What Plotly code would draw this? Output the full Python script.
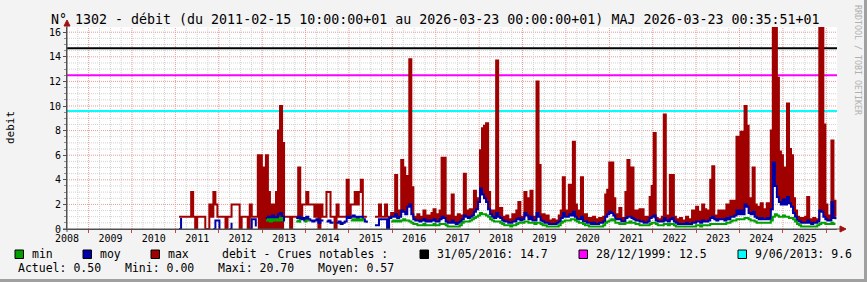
import pandas as pd
import plotly.graph_objects as go

N = None

# ---------------- data ----------------
START = "2010-08-01"   # first consolidated sample
STEP = "17D"           # consolidation step
DENSE_FROM = 104       # index from which the record is continuous
FLOOD_2013 = (39, 53)  # sample range of the 2012-2013 high-water episode

vmax = [
    1, 1, 1, 1, 1, 1, 3, 1, 0, 1,
    1, 1, 1, 0, 0, 2, 1, 3, 2, 1,
    1, 1, 1, 0, 1, 1, 2, 2, 2, 2,
    0, 1, 1, 1, 0, 2, 1, 1, 1, 6,
    6, 5, 1, 6, 3, 1, 2, 1, 3, 8,
    10, 7, 1, 1, 1, 0, 1, 1, 1, 5,
    1, 2, 2, 3, 2, 2, 2, 1, 2, 0,
    2, 1, 1, 3, 3, 1, 1, 0, 2, 1,
    1, 1, 1, 4, 1, 2, 2, 3, 2, 3,
    4, 1, 1, 1, N, N, N, 1, 1, 2,
    1, 1, 2, 1, 1, 1.3, 1.3, 4.4, 1.5, 1.4,
    5.6, 5.0, 2.5, 4.3, 13.8, 3.4, 1.0, 0.9, 1.2, 0.8,
    1.0, 1.5, 0.9, 1.1, 0.8, 1.3, 1.6, 1.0, 1.2, 1.5,
    5.8, 5.8, 1.0, 1.1, 0.9, 2.8, 1.0, 0.8, 1.2, 0.9,
    1.1, 4.5, 1.5, 1.2, 1.6, 1.3, 3.1, 2.5, 2.5, 6.4,
    8.2, 8.4, 8.6, 3.0, 1.5, 1.5, 1.2, 13.7, 1.7, 1.7,
    1.0, 0.9, 1.1, 0.8, 0.8, 1.2, 0.9, 1.5, 2.2, 1.0,
    1.0, 3.0, 2.5, 1.0, 3.1, 1.0, 1.0, 12.0, 5.2, 1.0,
    1.2, 0.9, 1.1, 0.7, 0.6, 0.8, 0.6, 0.7, 1.1, 1.5,
    4.2, 1.5, 1.4, 3.6, 2.5, 7.1, 2.0, 1.2, 1.5, 4.2,
    1.0, 1.2, 0.8, 0.9, 0.7, 1.0, 0.8, 0.7, 0.9, 0.8,
    1.0, 2.8, 3.2, 5.4, 5.4, 2.5, 1.0, 1.2, 1.7, 0.8,
    0.9, 3.0, 5.6, 5.0, 5.0, 1.5, 1.2, 1.5, 1.6, 1.6,
    1.0, 0.9, 1.0, 2.6, 3.5, 7.8, 0.9, 0.7, 0.8, 1.0,
    9.3, 1.0, 1.1, 4.4, 4.4, 1.0, 0.8, 0.6, 0.9, 0.5,
    0.7, 1.0, 0.6, 0.8, 1.5, 1.2, 1.8, 1.4, 1.2, 2.0,
    1.6, 1.5, 1.2, 4.0, 5.1, 1.0, 1.1, 1.5, 1.3, 1.5,
    1.2, 2.0, 1.0, 2.3, 1.8, 2.3, 7.5, 2.5, 7.9, 2.0,
    10.0, 8.4, 2.5, 2.5, 5.0, 2.0, 1.8, 1.5, 2.1, 1.4,
    1.6, 2.1, 1.5, 8.0, 20.7, 16.5, 12.3, 6.3, 6.0, 5.0,
    4.5, 10.2, 6.5, 6.0, 2.5, 1.5, 1.0, 0.8, 0.9, 0.8,
    1.0, 2.6, 0.8, 0.7, 0.9, 0.8, 0.8, 20.0, 19.0, 8.5,
    2.0, 1.0, 1.1, 7.2, 2.3, 1.0,
]

vmoy = [
    0, 0.9, N, N, N, N, N, N, N, N,
    N, N, N, N, N, N, N, 0, 0.7, 0.7,
    0, N, N, N, N, 0, 0.5, N, N, N,
    N, N, N, N, N, 0, 0.8, 0.8, 0.2, N,
    N, N, N, 0.9, 1.0, 0.8, 1.1, 0.9, 1.0, 1.2,
    1.3, 1.0, 0.6, N, N, N, N, N, 0.9, 1.0,
    0.8, 0.9, 0.7, 1.0, 0.8, 0.7, 0.6, 0.7, 0.8, 0.5,
    0.7, 0.6, N, 0.6, 0.7, 0.5, 0.6, N, 0.5, 0.6,
    0.4, 0.5, 0.6, 1.0, 0.9, 1.0, 1.1, 1.0, 0.9, 1.0,
    1.0, 0.8, 0.6, 0.5, N, N, N, 0.3, 0.3, 0.8,
    0.8, 0.8, 0.8, 0, 0.9, 1.0, 1.0, 1.2, 0.9, 1.0,
    1.5, 1.4, 1.2, 1.8, 2.0, 1.2, 0.8, 0.7, 0.7, 0.6,
    0.7, 0.8, 0.6, 0.7, 0.6, 0.7, 0.8, 0.6, 0.6, 0.8,
    1.0, 0.9, 0.6, 0.5, 0.5, 0.7, 0.5, 0.4, 0.5, 0.6,
    0.8, 1.1, 1.0, 0.9, 1.0, 1.1, 1.4, 1.6, 2.2, 3.3,
    2.8, 2.5, 2.2, 1.6, 1.2, 1.0, 0.9, 1.3, 1.0, 0.9,
    0.7, 0.6, 0.6, 0.5, 0.5, 0.6, 0.6, 0.8, 0.9, 0.7,
    0.8, 1.3, 1.1, 0.8, 1.0, 0.7, 0.7, 1.3, 1.0, 0.7,
    0.6, 0.5, 0.5, 0.4, 0.4, 0.4, 0.4, 0.5, 0.6, 0.9,
    1.3, 1.0, 1.0, 1.2, 1.1, 1.4, 1.0, 0.8, 0.8, 1.0,
    0.6, 0.6, 0.5, 0.5, 0.4, 0.5, 0.4, 0.4, 0.5, 0.5,
    0.6, 1.0, 1.2, 1.4, 1.3, 1.1, 0.8, 0.8, 0.8, 0.6,
    0.6, 0.9, 1.0, 1.0, 0.9, 0.8, 0.7, 0.7, 0.6, 0.6,
    0.5, 0.5, 0.6, 0.9, 1.0, 1.1, 0.7, 0.6, 0.6, 0.6,
    0.9, 0.7, 0.6, 0.8, 0.9, 0.6, 0.5, 0.4, 0.4, 0.4,
    0.4, 0.5, 0.4, 0.4, 0.5, 0.5, 0.6, 0.6, 0.5, 0.7,
    0.6, 0.6, 0.7, 0.9, 1.0, 0.8, 0.7, 0.8, 0.8, 0.8,
    0.7, 0.9, 0.8, 1.0, 1.0, 1.1, 1.5, 1.2, 1.5, 1.2,
    2.0, 1.8, 1.3, 1.2, 1.4, 1.0, 0.9, 0.8, 0.9, 0.8,
    0.8, 0.9, 0.8, 1.6, 5.4, 3.5, 2.6, 2.2, 2.0, 2.4,
    2.0, 2.6, 2.1, 1.8, 1.3, 1.0, 0.7, 0.6, 0.5, 0.5,
    0.5, 0.7, 0.5, 0.4, 0.5, 0.5, 0.6, 1.5, 1.4, 1.0,
    0.8, 0.7, 0.7, 2.2, 0.9, 0.8,
]

vmin = [
    N, N, N, N, N, N, N, N, N, N,
    N, N, N, N, N, N, N, N, N, N,
    N, N, N, N, N, N, N, N, N, N,
    N, N, N, N, N, N, N, N, N, N,
    N, N, N, 0.7, 0.8, 0.6, 0.8, 0.7, 0.8, 0.7,
    0.9, 0.6, N, N, N, N, N, N, 0.6, 0.7,
    0.5, N, 0.6, 0.7, 0.6, N, N, N, N, N,
    N, N, N, N, N, N, N, N, N, N,
    N, N, N, N, N, 0.7, 0.8, 0.7, 0.8, 0.7,
    0.8, 0.6, N, N, N, N, N, N, N, N,
    N, N, N, N, N, 0.6, 0.7, 0.6, 0.7, 0.6,
    0.7, 0.8, 0.7, 0.7, 0.6, 0.5, 0.4, 0.4, 0.3, 0.3,
    0.3, 0.4, 0.3, 0.3, 0.3, 0.3, 0.4, 0.3, 0.3, 0.4,
    0.4, 0.4, 0.3, 0.2, 0.2, 0.2, 0.2, 0.2, 0.2, 0.3,
    0.5, 0.6, 0.6, 0.6, 0.7, 0.8, 0.9, 1.0, 1.1, 1.3,
    1.2, 1.2, 1.1, 1.0, 0.8, 0.7, 0.6, 0.6, 0.6, 0.5,
    0.4, 0.3, 0.3, 0.3, 0.2, 0.3, 0.3, 0.4, 0.5, 0.5,
    0.5, 0.6, 0.6, 0.5, 0.5, 0.5, 0.4, 0.5, 0.5, 0.4,
    0.3, 0.3, 0.2, 0.2, 0.2, 0.2, 0.2, 0.2, 0.3, 0.5,
    0.6, 0.7, 0.7, 0.7, 0.8, 0.8, 0.7, 0.6, 0.5, 0.5,
    0.4, 0.3, 0.3, 0.2, 0.2, 0.2, 0.2, 0.2, 0.2, 0.2,
    0.3, 0.5, 0.6, 0.7, 0.8, 0.7, 0.5, 0.5, 0.4, 0.4,
    0.4, 0.5, 0.5, 0.6, 0.5, 0.5, 0.4, 0.4, 0.3, 0.3,
    0.3, 0.3, 0.3, 0.4, 0.5, 0.5, 0.4, 0.3, 0.3, 0.3,
    0.4, 0.4, 0.3, 0.4, 0.4, 0.3, 0.2, 0.2, 0.2, 0.2,
    0.2, 0.2, 0.2, 0.2, 0.2, 0.2, 0.3, 0.3, 0.2, 0.3,
    0.3, 0.3, 0.3, 0.4, 0.4, 0.4, 0.4, 0.4, 0.4, 0.4,
    0.4, 0.5, 0.5, 0.6, 0.7, 0.7, 0.8, 0.8, 0.8, 0.8,
    0.9, 0.9, 0.8, 0.7, 0.7, 0.6, 0.5, 0.5, 0.5, 0.5,
    0.5, 0.5, 0.5, 0.7, 1.0, 1.2, 1.1, 1.0, 1.0, 1.1,
    1.0, 1.0, 0.9, 0.9, 0.8, 0.6, 0.4, 0.3, 0.2, 0.2,
    0.2, 0.2, 0.2, 0.2, 0.2, 0.2, 0.3, 0.4, 0.5, 0.5,
    0.4, 0.4, 0.4, 0.5, 0.4, 0.4,
]

crue_labels = ["31/05/2016: 14.7", "28/12/1999: 12.5", "9/06/2013: 9.6"]
crue_values = [14.7, 12.5, 9.6]
series_names = ["min", "moy", "max"]
stats_labels = ["Actuel: 0.50", "Mini: 0.00", "Maxi: 20.70", "Moyen: 0.57"]
year_labels = list(range(2008, 2026))

TITLE = ("N° 1302 - débit (du 2011-02-15 10:00:00+01 au 2026-03-23 00:00:00+01) "
         "MAJ 2026-03-23 00:35:51+01")

# ---------------- styling ----------------
C_MIN, C_MOY, C_MAX = "#00A000", "#0000A8", "#A00000"
C_CRUES = ["#000000", "#FF00FF", "#00FFFF"]
MONO = "DejaVu Sans Mono"
W, H = 867, 282
L, R, T, B = 67, 30, 27, 53
PW, PH = W - L - R, H - T - B
X0, X1 = "2008-01-01", "2025-09-29"
YMAX = PH / 12.3


def px(x):
    return (x - L) / PW


def py(y):
    return (H - B - y) / PH


dates = pd.date_range(START, periods=len(vmax), freq=STEP)

fig = go.Figure()

# grid (drawn below the data)
shapes = []
GRID_MINOR = "#D2D2D2"
GRID_MAJOR = "#E59C9C"
k = 0.5
while k < YMAX:
    major = abs(k / 2 - round(k / 2)) < 1e-9
    shapes.append(dict(type="line", xref="paper", yref="y", x0=0, x1=1, y0=k, y1=k,
                       line=dict(color=GRID_MAJOR if major else GRID_MINOR, width=1,
                                 dash="1px,1px"), layer="below"))
    k += 0.5
for yr in year_labels:
    for m in (1, 4, 7, 10):
        d = pd.Timestamp(year=yr, month=m, day=1)
        if d <= pd.Timestamp(X0) or d >= pd.Timestamp(X1):
            continue
        shapes.append(dict(type="line", xref="x", yref="paper", x0=d, x1=d, y0=0, y1=1,
                           line=dict(color=GRID_MAJOR if m == 7 else GRID_MINOR, width=1,
                                     dash="1px,1px"), layer="below"))
# reference flood levels
for v, c in zip(crue_values, C_CRUES):
    shapes.append(dict(type="line", xref="paper", yref="y", x0=0, x1=1, y0=v, y1=v,
                       line=dict(color=c, width=2), layer="below"))

# 2012-2013 high-water episode: solid max envelope
a, b = FLOOD_2013
fig.add_trace(go.Scatter(x=dates[a:b], y=vmax[a:b], mode="lines", fill="tozeroy",
                         fillcolor=C_MAX, line=dict(width=0, shape="hv", simplify=False),
                         hoverinfo="skip", showlegend=False))

# continuous record: the daily max envelope is dense, shade it down to the mean
dd = dates[DENSE_FROM:]
fig.add_trace(go.Scatter(x=dd, y=vmoy[DENSE_FROM:], mode="lines",
                         line=dict(width=0, shape="hv", simplify=False),
                         hoverinfo="skip", showlegend=False))
fig.add_trace(go.Scatter(x=dd, y=vmax[DENSE_FROM:], mode="lines", fill="tonexty",
                         fillcolor=C_MAX, line=dict(width=0, shape="hv", simplify=False),
                         hoverinfo="skip", showlegend=False))

# data lines
for y, c in ((vmax, C_MAX), (vmoy, C_MOY), (vmin, C_MIN)):
    fig.add_trace(go.Scatter(x=dates, y=y, mode="lines", connectgaps=False,
                             line=dict(color=c, width=2, shape="hv", simplify=False),
                             hoverinfo="skip", showlegend=False))

# axis extensions and arrows
AX = "#505050"
ARROW = "#A01010"
shapes += [
    dict(type="line", xref="paper", yref="paper", x0=px(63), x1=px(841), y0=0, y1=0,
         line=dict(color=AX, width=1)),
    dict(type="line", xref="paper", yref="paper", x0=0, x1=0, y0=py(232), y1=py(25),
         line=dict(color=AX, width=1)),
    dict(type="path", xref="paper", yref="paper",
         path=f"M {px(840)},{py(226)} L {px(846)},{py(229)} L {px(840)},{py(232)} Z",
         fillcolor=ARROW, line=dict(color=ARROW, width=1)),
    dict(type="path", xref="paper", yref="paper",
         path=f"M {px(64)},{py(26)} L {px(67)},{py(20)} L {px(70)},{py(26)} Z",
         fillcolor=ARROW, line=dict(color=ARROW, width=1)),
    # frame shading
    dict(type="rect", xref="paper", yref="paper", x0=px(864), x1=px(868), y0=py(283), y1=py(-1),
         fillcolor="#A0A0A0", line=dict(width=0)),
    dict(type="rect", xref="paper", yref="paper", x0=px(-1), x1=px(868), y0=py(283), y1=py(279),
         fillcolor="#A0A0A0", line=dict(width=0)),
]

# legend squares and texts
annotations = []
LEG_Y1, LEG_Y2 = 254, 268
sq = [(15, C_MIN), (83, C_MOY), (151, C_MAX), (420, C_CRUES[0]), (579, C_CRUES[1]), (738, C_CRUES[2])]
for x, c in sq:
    shapes.append(dict(type="rect", xref="paper", yref="paper", x0=px(x), x1=px(x + 8.5),
                       y0=py(258.5), y1=py(250), fillcolor=c, line=dict(color="#000000", width=1)))


def txt(x, y, s, size=11.5, color="#000000", angle=0, xanchor="left"):
    annotations.append(dict(x=px(x), y=py(y), xref="paper", yref="paper", text=s, showarrow=False,
                            xanchor=xanchor, yanchor="middle", textangle=angle,
                            font=dict(family=MONO, size=size, color=color)))


for x, s in zip((30, 98, 166), series_names):
    txt(x, LEG_Y1, s)
txt(220, LEG_Y1, "debit - Crues notables :")
for x, s in zip((435, 594, 753), crue_labels):
    txt(x, LEG_Y1, s)
for x, s in zip((16, 122.5, 216, 316), stats_labels):
    txt(x, LEG_Y2, s)
txt(49, 19.5, TITLE, size=13.3)
annotations.append(dict(x=px(10), y=py(128), xref="paper", yref="paper", text="debit",
                        showarrow=False, textangle=-90, xanchor="center", yanchor="middle",
                        font=dict(family=MONO, size=11, color="#000000")))
annotations.append(dict(x=px(858), y=py(60), xref="paper", yref="paper",
                        text="RRDTOOL / TOBI OETIKER", showarrow=False, textangle=90,
                        xanchor="center", yanchor="middle",
                        font=dict(family=MONO, size=8.3, color="#B0B0B0")))

jan1 = [pd.Timestamp(year=y, month=1, day=1) for y in year_labels]
jul1 = [pd.Timestamp(year=y, month=7, day=1) for y in year_labels]

fig.update_layout(
    width=W, height=H, margin=dict(l=L, r=R, t=T, b=B, pad=0),
    paper_bgcolor="#F3F3F3", plot_bgcolor="#FFFFFF",
    shapes=shapes, annotations=annotations,
    xaxis=dict(type="date", range=[X0, X1], showgrid=False, zeroline=False,
               tickmode="array", tickvals=jan1, ticktext=[str(y) for y in year_labels],
               ticks="", showline=True, linecolor=AX, linewidth=1,
               tickfont=dict(family=MONO, size=10, color="#000000"),
               minor=dict(tickmode="array", tickvals=jul1, ticks="outside", ticklen=3,
                          tickcolor="#D04040", showgrid=False)),
    yaxis=dict(range=[0, YMAX], showgrid=False, zeroline=False,
               tickmode="array", tickvals=list(range(0, 17, 2)),
               ticktext=[str(v) for v in range(0, 17, 2)],
               ticks="outside", ticklen=3, tickcolor=AX, showline=True, linecolor=AX,
               linewidth=1, tickfont=dict(family=MONO, size=10, color="#000000"),
               minor=dict(dtick=0.5, ticks="outside", ticklen=2, tickcolor="#909090",
                          showgrid=False)),
)

fig.write_html("out.html")
